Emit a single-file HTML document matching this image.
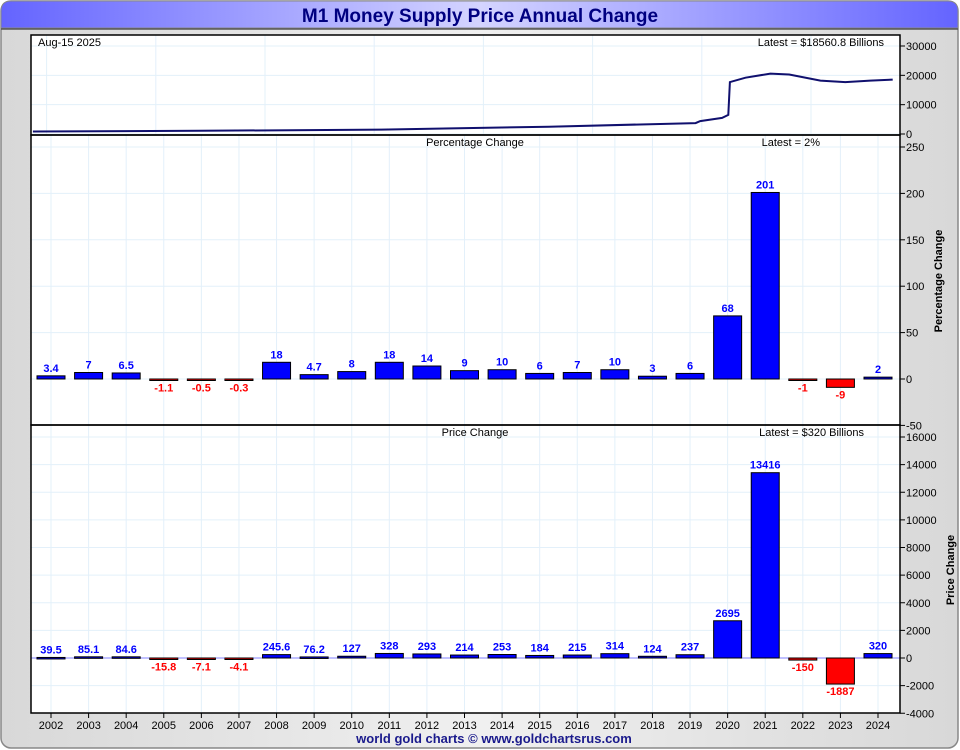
<!DOCTYPE html>
<html><head><meta charset="utf-8">
<style>
html,body{margin:0;padding:0;background:#fff;}
svg{display:block;font-family:"Liberation Sans",Arial,sans-serif;}
</style></head>
<body>
<svg id="chart" width="960" height="750" viewBox="0 0 960 750" xmlns="http://www.w3.org/2000/svg">
<defs>
<linearGradient id="tg" x1="0" x2="1" y1="0" y2="0">
<stop offset="0" stop-color="#6464ff"/><stop offset="0.5" stop-color="#d4d4ff"/><stop offset="1" stop-color="#6464ff"/>
</linearGradient>
<linearGradient id="bg" x1="0" x2="1" y1="0" y2="0">
<stop offset="0" stop-color="#d8d8d8"/><stop offset="0.5" stop-color="#f0f0f0"/><stop offset="1" stop-color="#d8d8d8"/>
</linearGradient>
</defs>
<rect x="1" y="1" width="957" height="747" rx="10" fill="url(#bg)" stroke="#888" stroke-width="1.5"/>
<path d="M1,28 L1,11 Q1,1 11,1 L948,1 Q958,1 958,11 L958,28 Z" fill="url(#tg)" stroke="#888"/>
<line x1="1" y1="29" x2="958" y2="29" stroke="#555" stroke-width="1.5"/>
<text x="480" y="22" text-anchor="middle" font-size="19" font-weight="bold" fill="#000080">M1 Money Supply Price Annual Change</text>
<rect x="31" y="35" width="869" height="678" fill="#fff"/>
<g id="grid"></g>
<g id="marks"></g>
<g id="axes"></g>
<text x="38" y="46" font-size="11" fill="#000">Aug-15  2025</text>
<text x="884" y="46" font-size="11" text-anchor="end" fill="#000">Latest = $18560.8 Billions</text>
<text x="475" y="146" font-size="11" text-anchor="middle" fill="#000">Percentage Change</text>
<text x="820" y="146" font-size="11" text-anchor="end" fill="#000">Latest = 2%</text>
<text x="475" y="436" font-size="11" text-anchor="middle" fill="#000">Price Change</text>
<text x="864" y="436" font-size="11" text-anchor="end" fill="#000">Latest = $320 Billions</text>
<text transform="translate(942,281) rotate(-90)" font-size="11" font-weight="bold" text-anchor="middle">Percentage Change</text>
<text transform="translate(954,570) rotate(-90)" font-size="11" font-weight="bold" text-anchor="middle">Price Change</text>
<text x="494" y="743" font-size="13" font-weight="bold" text-anchor="middle" fill="#1a1a8c">world gold charts © www.goldchartsrus.com</text>
</svg>
<script>
const years = ["2002","2003","2004","2005","2006","2007","2008","2009","2010","2011","2012","2013","2014","2015","2016","2017","2018","2019","2020","2021","2022","2023","2024"];
const pctValues = [3.4,7,6.5,-1.1,-0.5,-0.3,18,4.7,8,18,14,9,10,6,7,10,3,6,68,201,-1,-9,2];
const pctLabels = ["3.4","7","6.5","-1.1","-0.5","-0.3","18","4.7","8","18","14","9","10","6","7","10","3","6","68","201","-1","-9","2"];
const priceValues = [39.5,85.1,84.6,-15.8,-7.1,-4.1,245.6,76.2,127,328,293,214,253,184,215,314,124,237,2695,13416,-150,-1887,320];
const priceLabels = ["39.5","85.1","84.6","-15.8","-7.1","-4.1","245.6","76.2","127","328","293","214","253","184","215","314","124","237","2695","13416","-150","-1887","320"];
const levelTimes = [1998.06,2003.4,2009.2,2014.6,2019.3,2019.45,2020.15,2020.35,2020.4,2020.9,2021.7,2022.3,2023.3,2024.1,2024.9,2025.62];
const levelValues = [850,1100,1500,2500,3700,4400,5500,6500,17700,19200,20600,20300,18200,17700,18200,18560];
const levelTicks = [0,10000,20000,30000];
const pctTicks = [-50,0,50,100,150,200,250];
const priceTicks = [-4000,-2000,0,2000,4000,6000,8000,10000,12000,14000,16000];

const NS="http://www.w3.org/2000/svg";
const L=31,R=900;
function mk(tag,attrs,parent,text){const e=document.createElementNS(NS,tag);for(const k in attrs)e.setAttribute(k,attrs[k]);if(text!==undefined)e.textContent=text;parent.appendChild(e);return e;}
const grid=document.getElementById('grid'),marks=document.getElementById('marks'),axes=document.getElementById('axes');
const xCat=i=>51+i*(878-51)/(years.length-1);
const xTime=t=>31+(t-1998)*31.2;
const yLevel=v=>134-v*(88/30000);
const yPct=v=>379-v*(232/250);
const yPrice=v=>658-v*(221/16000);

// grids
for(let i=0;i<years.length;i++){
  const g=mk('line',{x1:xCat(i),x2:xCat(i),y1:135,y2:713,stroke:'#e3f0fa','stroke-width':1},grid);
  
  
}
for(let t=1998.5;t<2026;t+=3.5){
  const g=mk('line',{x1:xTime(t),x2:xTime(t),y1:35,y2:135,stroke:'#e3f0fa'},grid);
  
  
}
function hgrid(ticks,fn,top,bot,name){
  ticks.forEach(v=>{const y=fn(v);if(y<top||y>bot)return;
    const g=mk('line',{x1:L,x2:R,y1:y,y2:y,stroke:'#e3f0fa'},grid);
    
    
  });
}
hgrid(levelTicks,yLevel,35,135,'level-gridline');
hgrid(pctTicks,yPct,135,425,'percentage-gridline');
hgrid(priceTicks,yPrice,425,713,'price-gridline');

// level line
const pts=levelTimes.map((t,i)=>xTime(t).toFixed(1)+','+yLevel(levelValues[i]).toFixed(1)).join(' ');
const pl=mk('polyline',{points:pts,fill:'none',stroke:'#10106e','stroke-width':2},marks);



// zero line in price panel
const zl=mk('line',{x1:L,x2:R,y1:yPrice(0),y2:yPrice(0),stroke:'#8080ff'},marks);



function bars(vals,labels,fn,name){
  const w=28;
  vals.forEach((v,i)=>{
    const x=xCat(i)-w/2,y0=fn(0),y1=fn(v);
    const top=Math.min(y0,y1),h=Math.max(Math.abs(y1-y0),1.5);
    const b=mk('rect',{x:x,y:top,width:w,height:h,fill:v>=0?'#0000ff':'#ff0000',stroke:'#000','stroke-width':1},marks);
    
    
    const ty=v>=0?top-4:top+h+11;
    const t=mk('text',{x:xCat(i),y:ty,'text-anchor':'middle','font-size':11,'font-weight':'bold',fill:v>=0?'#0000ff':'#ff0000'},marks,labels[i]);
    
    
  });
}
bars(pctValues,pctLabels,yPct,'percentage');
bars(priceValues,priceLabels,yPrice,'price');

// frames
[[35,135],[135,425],[425,713]].forEach(([a,b])=>{
  const r=mk('rect',{x:L,y:a,width:R-L,height:b-a,fill:'none',stroke:'#000','stroke-width':1.5},axes);
  
  
});
function yaxis(ticks,fn,name){
  ticks.forEach(v=>{const y=fn(v);
    const tk=mk('line',{x1:R,x2:R+5,y1:y,y2:y,stroke:'#000'},axes);
    
    
    const t=mk('text',{x:R+6,y:y+4,'font-size':11,fill:'#000'},axes,String(v));
    
    
  });
}
yaxis(levelTicks,yLevel,'level-axis');
yaxis(pctTicks,yPct,'percentage-axis');
yaxis(priceTicks,yPrice,'price-axis');
years.forEach((yr,i)=>{
  const tk=mk('line',{x1:xCat(i),x2:xCat(i),y1:713,y2:718,stroke:'#000'},axes);
  
  
  const t=mk('text',{x:xCat(i),y:729,'text-anchor':'middle','font-size':11,fill:'#000'},axes,yr);
  
  
});
</script>
</body></html>
